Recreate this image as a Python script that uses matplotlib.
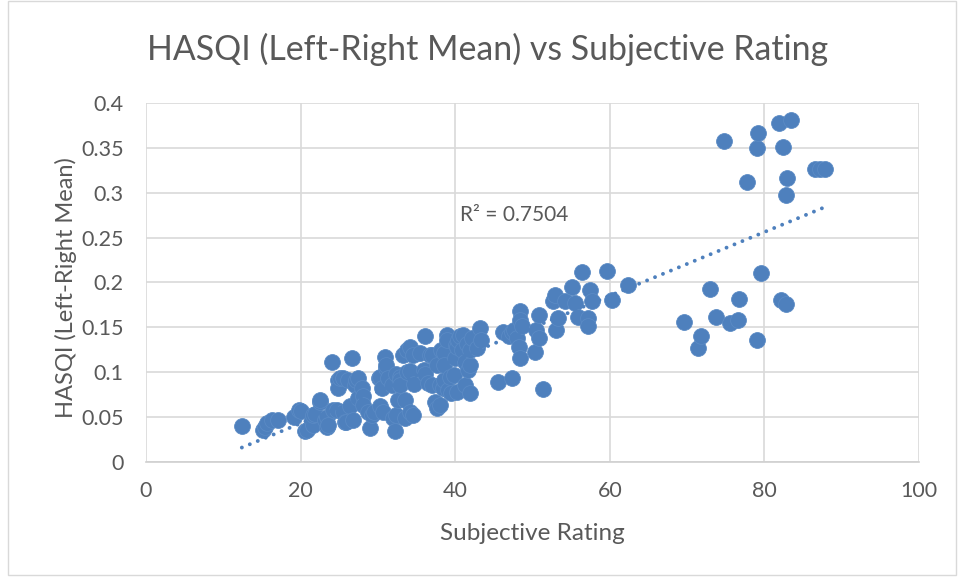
import matplotlib
matplotlib.use("Agg")
import matplotlib.pyplot as plt
import numpy as np
from matplotlib.patches import Rectangle

title = "HASQI (Left-Right Mean) vs Subjective Rating"
x_label = "Subjective Rating"
y_label = "HASQI (Left-Right Mean)"
r2_text = "R² = 0.7504"

x_ticks = [0, 20, 40, 60, 80, 100]
y_ticks = [0, 0.05, 0.1, 0.15, 0.2, 0.25, 0.3, 0.35, 0.4]
y_tick_labels = ["0", "0.05", "0.1", "0.15", "0.2", "0.25", "0.3", "0.35", "0.4"]

subjective = [
    12.4, 15.2, 15.4, 15.6, 16.3, 17.1, 19.1, 19.8, 20.1, 20.6, 20.8, 21.5, 21.6, 21.6, 21.9,
    22.5, 22.5, 23.2, 23.4, 23.4, 23.5, 24.0, 24.2, 24.7, 24.9, 24.9, 25.1, 25.5, 25.5, 25.7,
    25.9, 26.1, 26.4, 26.7, 26.8, 27.0, 27.2, 27.4, 27.4, 27.9, 28.1, 28.1, 28.7, 29.0, 29.2,
    29.5, 30.1, 30.3, 30.3, 30.5, 30.7, 30.9, 31.0, 31.1, 31.3, 31.8, 32.0, 32.2, 32.3, 32.4,
    32.6, 32.9, 32.9, 32.9, 33.2, 33.5, 33.5, 33.7, 33.8, 34.2, 34.2, 34.2, 34.5, 34.6, 34.7,
    35.4, 35.9, 36.1, 36.1, 36.5, 36.7, 37.0, 37.0, 37.4, 37.6, 37.6, 38.0, 38.0, 38.2, 38.4,
    38.5, 38.5, 38.6, 38.9, 38.9, 39.1, 39.3, 39.5, 39.8, 40.0, 40.1, 40.2, 40.2, 40.4, 40.6,
    40.9, 41.0, 41.3, 41.3, 41.5, 41.7, 41.9, 41.9, 41.9, 42.2, 42.8, 43.2, 43.4, 45.5, 46.2,
    47.0, 47.3, 47.3, 47.6, 48.0, 48.2, 48.4, 48.4, 48.4, 48.6, 50.3, 50.5, 50.8, 50.8, 51.4,
    52.7, 52.9, 53.1, 53.3, 54.2, 55.1, 55.5, 55.9, 56.4, 57.2, 57.2, 57.4, 57.7, 59.7, 60.3,
    62.3, 69.6, 71.4, 71.8, 73.0, 73.8, 74.8, 75.6, 76.6, 76.7, 77.7, 79.0, 79.0, 79.2, 79.5,
    81.9, 82.1, 82.4, 82.8, 82.8, 82.9, 83.4, 86.5, 87.2, 87.8,
]
hasqi = [
    0.040, 0.036, 0.039, 0.043, 0.047, 0.047, 0.050, 0.058, 0.057, 0.035, 0.036, 0.047, 0.041, 0.052, 0.053,
    0.067, 0.069, 0.047, 0.050, 0.039, 0.041, 0.111, 0.058, 0.058, 0.091, 0.082, 0.094, 0.094, 0.056, 0.045,
    0.045, 0.091, 0.062, 0.116, 0.047, 0.086, 0.091, 0.094, 0.071, 0.082, 0.073, 0.064, 0.056, 0.038, 0.052,
    0.056, 0.094, 0.095, 0.062, 0.082, 0.056, 0.117, 0.105, 0.108, 0.094, 0.086, 0.049, 0.034, 0.098, 0.052,
    0.069, 0.095, 0.091, 0.086, 0.119, 0.069, 0.049, 0.125, 0.100, 0.101, 0.128, 0.056, 0.119, 0.052, 0.087,
    0.121, 0.103, 0.140, 0.098, 0.088, 0.119, 0.086, 0.119, 0.067, 0.060, 0.108, 0.086, 0.064, 0.125, 0.082,
    0.121, 0.091, 0.108, 0.141, 0.136, 0.080, 0.095, 0.077, 0.097, 0.116, 0.130, 0.128, 0.078, 0.136, 0.140,
    0.125, 0.141, 0.111, 0.086, 0.132, 0.103, 0.108, 0.077, 0.125, 0.138, 0.127, 0.149, 0.136, 0.089, 0.145,
    0.140, 0.145, 0.094, 0.147, 0.138, 0.128, 0.116, 0.168, 0.158, 0.151, 0.123, 0.147, 0.138, 0.164, 0.081,
    0.179, 0.186, 0.147, 0.160, 0.179, 0.195, 0.177, 0.162, 0.212, 0.160, 0.151, 0.192, 0.179, 0.213, 0.181,
    0.197, 0.156, 0.127, 0.140, 0.193, 0.161, 0.358, 0.155, 0.158, 0.182, 0.312, 0.136, 0.350, 0.367, 0.211,
    0.378, 0.180, 0.351, 0.176, 0.298, 0.316, 0.381, 0.326, 0.326, 0.327,
]

blue = "#4e80bd"
text_gray = "#595959"
grid_gray = "#d9d9d9"
font = ["Lato", "DejaVu Sans"]

fig = plt.figure(figsize=(9.58, 5.78), dpi=100)
fig.patches.append(Rectangle((0.008, 0.005), 0.99, 0.994, transform=fig.transFigure,
                             fill=False, edgecolor="#d9d9d9", linewidth=1))
ax = fig.add_axes([0.1524, 0.2007, 0.8069, 0.6211])

ax.scatter(subjective, hasqi, s=130, color=blue, edgecolors="#5a8ac4", linewidths=0.6, zorder=3)

xs = np.array(subjective)
ys = np.array(hasqi)
slope, intercept = np.polyfit(xs, ys, 1)
line_x = np.array([xs.min(), xs.max()])
ax.plot(line_x, slope * line_x + intercept, linestyle=(0, (0.01, 2.2)), color=blue,
        linewidth=2.8, dash_capstyle="round", zorder=4)

ax.text(40.6, 0.275, r2_text, fontsize=15, color=text_gray, family=font, va="center", ha="left")

ax.set_xlim(0, 100)
ax.set_ylim(0, 0.4)
ax.set_xticks(x_ticks)
ax.set_yticks(y_ticks)
ax.set_yticklabels(y_tick_labels)
ax.grid(True, color=grid_gray, linewidth=1.2, zorder=0)
ax.set_axisbelow(True)
for side in ["top", "right", "left"]:
    ax.spines[side].set_visible(False)
ax.spines["bottom"].set_color("#d0d0d0")
ax.spines["bottom"].set_linewidth(1.2)
ax.tick_params(length=0, labelsize=15.5, colors=text_gray)
ax.tick_params(axis="x", pad=14)
ax.tick_params(axis="y", pad=16)
for lbl in ax.get_xticklabels() + ax.get_yticklabels():
    lbl.set_family(font)

fig.text(532 / 958, 1 - 533 / 578, x_label, fontsize=17.5, color=text_gray, family=font,
         ha="center", va="center")
fig.text(66 / 958, 1 - 288 / 578, y_label, fontsize=17, color=text_gray, family=font,
         ha="center", va="center", rotation=90)
fig.text(488 / 958, 1 - 49 / 578, title, fontsize=24.4, color=text_gray, family=font,
         ha="center", va="center")

fig.savefig("out.png", dpi=100)
